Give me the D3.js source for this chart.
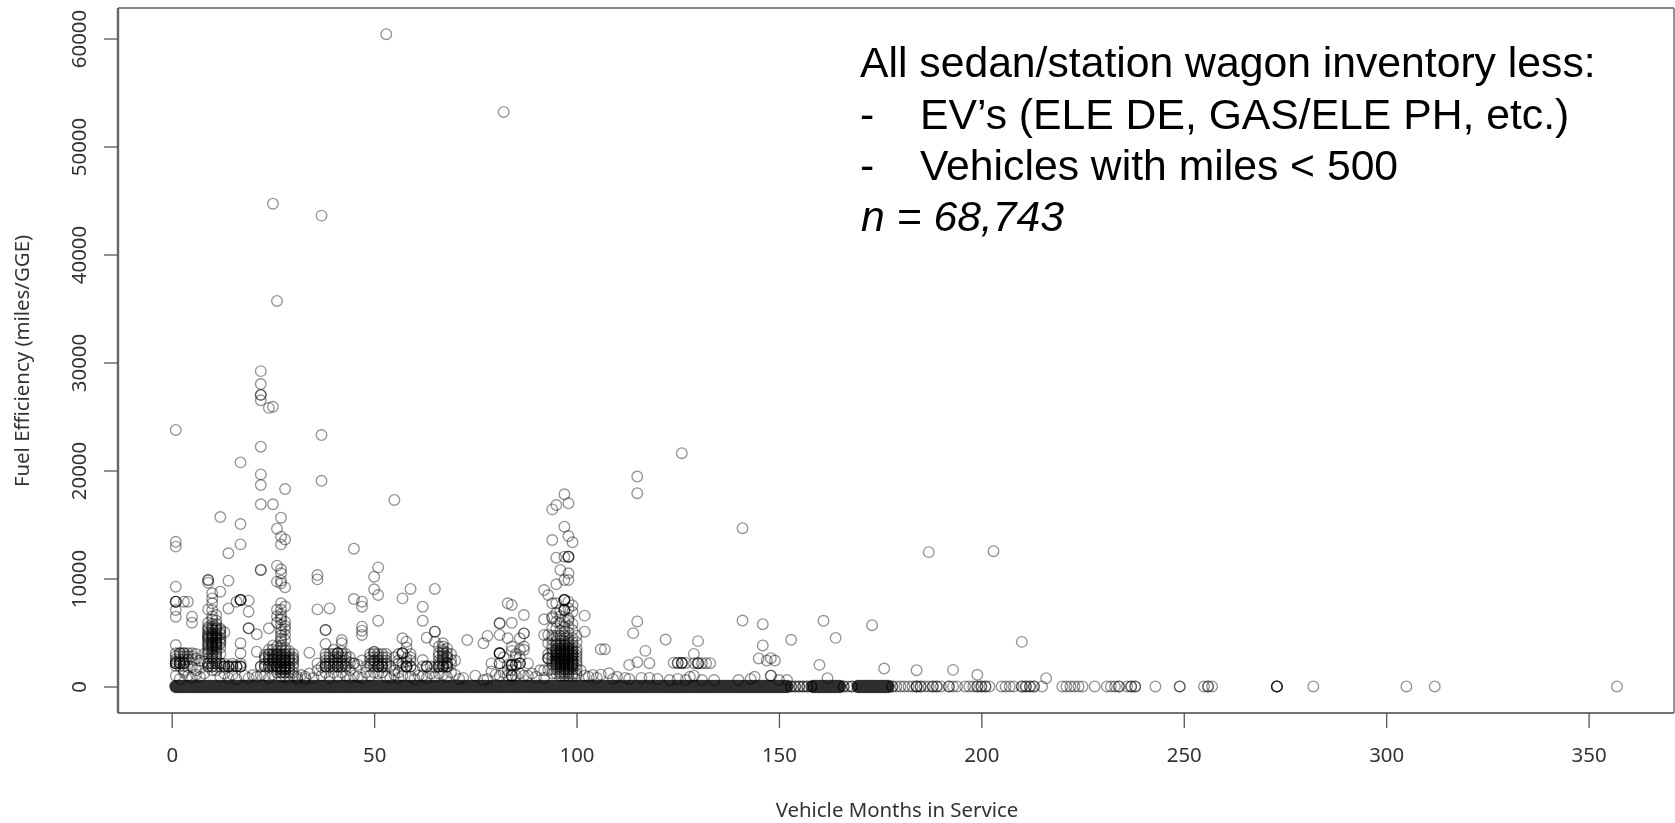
<!DOCTYPE html>
<html>
<head>
<meta charset="utf-8">
<script src="https://d3js.org/d3.v7.min.js"></script>
<style>
	body { margin: 0; background: #fff; }
	.tick text, .labels { font-family: "Noto Sans", sans-serif; font-size: 20.4px; fill: #333; }
	.note { font-family: "Liberation Sans", Arial, sans-serif; font-size: 42.7px; fill: #000; }
</style>
</head>
<body>
<svg width="1675" height="823"></svg>
<script>
const xTicks = [0, 50, 100, 150, 200, 250, 300, 350],
	yTicks = [0, 10000, 20000, 30000, 40000, 50000, 60000];

// the solid strip along zero: months filled almost continuously
const bandMonths = [
	1,1.5,2,2.5,3,3.5,4,4.5,5,5.5,6,6.5,7,7.5,8,8.5,9,9.5,10,10.5,11,11.5,12,12.5,13,13.5,14,14.5,15,15.5,
	16,16.5,17,17.5,18,18.5,19,19.5,20,20.5,21,21.5,22,22.5,23,23.5,24,24.5,25,25.5,26,26.5,27,27.5,28,28.5,29,29.5,30,30.5,
	31,31.5,32,32.5,33,33.5,34,34.5,35,35.5,36,36.5,37,37.5,38,38.5,39,39.5,40,40.5,41,41.5,42,42.5,43,43.5,44,44.5,45,45.5,
	46,46.5,47,47.5,48,48.5,49,49.5,50,50.5,51,51.5,52,52.5,53,53.5,54,54.5,55,55.5,56,56.5,57,57.5,58,58.5,59,59.5,60,60.5,
	61,61.5,62,62.5,63,63.5,64,64.5,65,65.5,66,66.5,67,67.5,68,68.5,69,69.5,70,70.5,71,71.5,72,72.5,73,73.5,74,74.5,75,75.5,
	76,76.5,77,77.5,78,78.5,79,79.5,80,80.5,81,81.5,82,82.5,83,83.5,84,84.5,85,85.5,86,86.5,87,87.5,88,88.5,89,89.5,90,90.5,
	91,91.5,92,92.5,93,93.5,94,94.5,95,95.5,96,96.5,97,97.5,98,98.5,99,99.5,100,100.5,101,101.5,102,102.5,103,103.5,104,104.5,105,105.5,
	106,106.5,107,107.5,108,108.5,109,109.5,110,110.5,111,111.5,112,112.5,113,113.5,114,114.5,115,115.5,116,116.5,117,117.5,118,118.5,119,119.5,120,120.5,
	121,121.5,122,122.5,123,123.5,124,124.5,125,125.5,126,126.5,127,127.5,128,128.5,129,129.5,130,130.5,131,131.5,132,132.5,133,133.5,134,134.5,135,135.5,
	136,136.5,137,137.5,138,138.5,139,139.5,140,140.5,141,141.5,142,142.5,143,143.5,144,144.5,145,145.5,146,146.5,147,147.5,148,148.5,149,149.5,150,150.5,
	151,151.5,152,158.5,159,159.5,160,160.5,161,161.5,162,162.5,163,163.5,164,164.5,165,
	169.5,170,170.5,171,171.5,172,172.5,173,173.5,174,174.5,175,175.5,176,176.5,177
];
const bandLevels = [-40, 0, 60];

// single rings on the zero line past the solid strip
const sparseMonths = [
	153,153,154,154,155,155,156,156,157,157,158,158,166,166,167,168,168,178,178,179,180,181,182,183,184,184,184,185,185,186,187,188,188,189,189,190,
	192,192,193,194,196,197,198,199,199,200,200,201,201,202,205,206,207,208,210,210,211,211,212,212,213,213,215,
	220,221,222,223,224,225,228,231,232,233,234,234,236,237,237,238,238,243,249,249,255,256,256,257,
	273,273,273,273,282,305,312,357
];

const highPoints = [
	[53,60400],[82,53200],[25,44700],[37,43600],[26,35700],[22,29200],[22,28000],[22,27000],[22,27000],[22,26500],
	[24,25800],[25,25900],[1,23750],[37,23280],[22,22200],[126,21600],[17,20750],[22,19640],[115,19440],[37,19050],
	[22,18650],[28,18285],[115,17900],[97,17800],[55,17270],[98,16960],[22,16870],[25,16870],[95,16800],[94,16400],
	[12,15690],[27,15630],[17,15040],[141,14660],[97,14800],[26,14610],[98,13930],[27,13870],[28,13620],[94,13560],
	[1,13400],[99,13350],[27,13160],[17,13160],[1,12950],[45,12760],[203,12530],[187,12440],[14,12330],
	[95,11930],[97,12020],[98,12020],[98,12020],[98,12020]
];

const lowOutliers = [
	[26,11190],[51,11030],[27,10850],[22,10790],[22,10790],[27,10480],[96,10790],[98,10480],[36,10320],[50,10170],[36,9920],
	[9,9860],[9,9860],[9,9610],[14,9800],[26,9710],[27,9800],[27,9550],[97,9860],[98,9860],[95,9460],[1,9240],[28,9180],
	[59,9030],[65,9030],[50,9000],[92,8930],[12,8780],[10,8630],[51,8470],[93,8470],[57,8160],[45,8100],[17,8010],[17,8010],
	[17,8010],[17,8010],[16,7850],[19,7950],[1,7850],[1,7850],[1,7850],[3,7850],[4,7850],[47,7850],[27,7700],[83,7700],
	[84,7550],[47,7390],[62,7390],[39,7230],[14,7230],[36,7140],[1,7080],[19,6930],[87,6620],[102,6560],[1,6460],[5,6460],
	[51,6090],[62,6090],[141,6110],[115,6020],[146,5770],[161,6080],[5,5910],[81,5850],[81,5850],[84,5900],[173,5680],
	[47,5540],[24,5385],[19,5385],[19,5385],[38,5230],[38,5230],[102,5075],[13,5015],[65,5080],[47,5170],[114,4940],
	[87,4920],[87,4920],[21,4830],[47,4770],[81,4770],[78,4680],[164,4500],[65,5075],[63,4520],[57,4460],[83,4460],[86,4460],
	[122,4350],[73,4300],[153,4320],[65,4150],[58,4150],[210,4130],[130,4200],[77,4000],[38,3935],[1,3840],[146,3800],
	[17,4000],[107,3440],[106,3440],[117,3300],[21,3225],[17,3070],[34,3130],[129,3020],[145,2600],[147,2400],[148,2620],
	[149,2400],[115,2250],[113,2000],[118,2160],[124,2200],[125,2180],[125,2180],[126,2170],[126,2170],[126,2170],[127,2180],
	[129,2160],[130,2160],[130,2160],[130,2160],[131,2160],[132,2160],[133,2160],[160,2000],[176,1660],[184,1510],[193,1540],
	[199,1080],[216,770],[162,770],[148,1000],[148,1000],[144,900],[129,1000],[128,900],[108,1220],[104,1070],[75,1000],
	[46,900],[36,2140],[20,1060],[22,1060],[32,1060],[89,1200],[91,1500],[79,2140],[88,2140],[69,2450],[45,2140],[45,2140],
	[62,2450],[68,3530],[40,3400],[42,4300],[42,4000],[34,1200],[61,1000],[70,1100],[100,1000],[110,900],[112,800],[120,700]
];

// light rings just above the strip
const fringe = [
	[1,1000],[2,700],[3,1500],[5,800],[6,1100],[7,1700],[8,1200],[8,2300],[8,3000],[12,900],[13,1200],[14,800],[15,1100],[16,700],
	[18,1000],[19,800],[21,900],[23,1000],[24,800],[25,1100],[29,800],[30,1000],[31,700],[33,700],[35,800],[37,1000],[39,800],[41,900],
	[43,1000],[44,800],[45,1000],[47,800],[49,1000],[51,1200],[53,900],[54,800],[55,1100],[56,800],[57,1000],[59,900],[60,700],[62,1000],
	[63,800],[64,1200],[65,900],[66,1200],[67,1100],[68,900],[71,700],[72,800],[77,600],[78,700],[79,1400],[80,1100],[81,1000],[82,1300],
	[86,1200],[88,1000],[90,900],[92,800],[101,1500],[102,1000],[103,900],[105,800],[106,1100],[109,700],[113,700],[116,800],[118,800],
	[123,600],[125,700],[127,600],[131,600],[134,600],[140,600],[143,700],[150,600],[152,600]
];

// months 1-17 above the strip
const clusterA = [
	[1,3070],[2,3070],[2,3070],[3,3070],[3,3070],[4,3070],[5,3070],[1,2140],[1,2140],[1,2140],[1,2140],[2,2140],[2,2140],[2,2140],
	[3,2140],[3,2140],[3,2140],[1,2500],[2,2500],[3,2500],[4,2500],[5,2500],[4,1800],[5,1800],[6,1500],[3,1300],[4,1000],[7,900],
	[10,8160],[10,7700],[9,7140],[10,7080],[11,6620],[10,6500],[10,6200],[11,6100],[9,5900],[10,5800],[11,5800],
	[9,5500],[10,5500],[11,5500],[9,5200],[10,5200],[11,5200],[12,5200],[9,4800],[10,4800],[10,4800],[11,4800],[12,4800],
	[9,4500],[9,4500],[10,4500],[10,4500],[11,4500],[11,4500],[12,4500],[9,4100],[10,4100],[10,4100],[11,4100],[11,4100],[12,4100],
	[9,3800],[10,3800],[10,3800],[11,3800],[11,3800],[9,3400],[10,3400],[11,3400],[9,3000],[10,3000],[11,3000],[12,3000],
	[9,2600],[10,2600],[11,2600],[9,2140],[9,2140],[10,2140],[10,2140],[11,2140],[11,2140],[12,2140],[12,2140],[10,1500],[11,1500],
	[13,1850],[13,1850],[13,1850],[14,1850],[14,1850],[14,1850],[15,1850],[15,1850],[16,1850],[16,1850],[16,1850],[17,1850],[17,1850],[17,1850],
	[1,2800],[2,2800],[3,2800],[4,2800],[5,2800],[6,2600],[7,2400],[6,3000],[1,2300],[2,2300],[3,1900],[1,1900],[2,1900],
	[9,5350],[10,5350],[11,5350],[12,5350],[9,4950],[10,4950],[11,4950],[12,4950],[9,4650],[10,4650],[11,4650],[9,4300],[10,4300],[11,4300],[12,4300],
	[9,3950],[10,3950],[11,3950],[12,3950],[9,3600],[10,3600],[11,3600],[12,3600],[9,3200],[10,3200],[11,3200],[10,2800],[11,2800],
	[9,1850],[10,1850],[11,1850],[12,1850],[9,1850],[10,1850],[13,2100],[15,2100],[17,2100]
];

// months 22-30 block and column
const clusterB = [
	[26,7100],[27,7100],[28,7400],[26,6500],[27,6700],[28,6000],[27,6200],[27,5700],[28,5300],[27,5300],[28,4800],[27,4700],[27,4200],
	[28,4300],[27,3800],[25,3800],[26,3700],[24,3400],[25,3400],[26,3300],[27,3300],[28,3300],[29,3300],[24,3000],[25,3000],[26,3000],[27,3000],
	[28,3000],[29,3000],[30,3000],[23,2700],[24,2700],[25,2700],[26,2700],[27,2700],[28,2700],[29,2700],[30,2700],[24,2400],[25,2400],
	[26,2400],[27,2400],[27,2400],[28,2400],[28,2400],[29,2400],[30,2400],[22,1850],[22,1850],[23,1850],[23,1850],[24,1850],[24,1850],
	[25,1850],[25,1850],[26,1850],[26,1850],[26,1850],[27,1850],[27,1850],[27,1850],[28,1850],[28,1850],[28,1850],[29,1850],[29,1850],[30,1850],
	[27,1300],[27,1300],[28,1300],[28,1300],[26,1300],[29,1300],[30,1300],[27,900],[28,900],[31,900],[33,900],
	[23,2950],[24,2950],[25,2950],[26,2950],[27,2950],[28,2950],[23,2500],[24,2500],[25,2550],[26,2550],[27,2550],[28,2550],[29,2550],[30,2550],
	[25,2200],[26,2200],[27,2200],[28,2200],[29,2200],[24,2100],[23,2100],[30,2100],[26,1600],[27,1600],[27,1600],[28,1600],[28,1600],[29,1600],
	[25,1850],[26,1850],[27,1850],[28,1850],[27,3600],[28,3600],[27,4400],[27,5000],[28,5600],[26,5900],[27,6400]
];

// months 38-68, the smaller blocks
const clusterC = [
	[38,3000],[38,2400],[38,1850],[38,1850],[38,1850],[39,3000],[39,2400],[39,1850],[39,1850],[40,3000],[40,2400],[40,1850],[40,1850],
	[41,3070],[41,3070],[41,3070],[41,2400],[41,1850],[41,1850],[41,1850],[42,3000],[42,3300],[42,2400],[42,1850],[42,1850],[43,3000],[43,2400],
	[43,1850],[43,1850],[38,1300],[40,1300],[42,1300],[44,1500],[36,1500],[37,1800],[49,3000],[50,3000],[51,3000],[52,3000],[53,3000],
	[49,2400],[50,2400],[50,2400],[51,2400],[52,2400],[53,2400],[50,3200],[50,3200],[48,1850],[49,1850],[50,1850],[51,1850],[51,1850],[51,1850],[51,1850],[52,1850],
	[52,1850],[52,1850],[53,1850],[54,1850],[47,2400],[46,2000],[48,1300],[50,1300],[52,1300],[55,1500],[56,3000],[56,2400],[57,3070],[57,3070],[57,3070],
	[58,3600],[55,2700],[58,2600],[59,3000],[59,2400],[58,1850],[58,1850],[58,1850],[58,1850],[59,1850],[59,1850],[57,1850],[56,1300],[60,1500],
	[62,1850],[63,1850],[63,1850],[63,1850],[64,1850],[66,1850],[66,1850],[66,1850],[67,1850],[67,1850],[67,1850],[68,1850],[68,1850],[68,1850],
	[67,4000],[67,3700],[67,3400],[67,3100],[67,2700],[67,2400],[66,3700],[66,3100],[68,3100],[68,2700],[69,3000],[70,2400],[66,2400],[65,1800],[68,2200],[69,1300],
	[38,2700],[39,2700],[40,2700],[41,2700],[42,2700],[43,2700],[44,2700],[38,2100],[39,2100],[40,2100],[41,2100],[42,2100],[43,2100],[44,2200],
	[49,2700],[50,2700],[51,2700],[52,2700],[53,2700],[49,2100],[50,2100],[51,2100],[52,2100],[53,2100],[57,2200],[58,2300],[59,2700],[56,2100],
	[67,3250],[67,2900],[67,2550],[66,2800],[68,2800],[67,2100],[66,2100],[68,2100],[69,2100]
];

// months 81-88 and the tall 92-101 column
const clusterD = [
	[81,3070],[81,3070],[81,3070],[81,3070],[84,3700],[84,3300],[85,3000],[86,3400],[87,3700],[87,3400],[85,2700],[86,2700],[82,2700],
	[81,2140],[81,2140],[83,2000],[84,1990],[84,1990],[84,1990],[84,1990],[85,1990],[85,1990],[86,2140],[86,2140],[86,2140],[83,1500],[84,1500],
	[84,1000],[84,1000],[84,1000],[85,1000],[83,1000],[87,1000],[92,4770],[93,4770],[93,4000],[93,3000],[93,2600],[93,2600],[93,2600],[92,1500],[93,1500],
	[94,7700],[94,6460],[94,6310],[95,7700],[95,6800],[96,7080],[96,5850],[97,8010],[97,8010],[97,8010],[97,8010],[97,7080],[97,7080],[97,7080],
	[98,7850],[98,7240],[98,6310],[98,6150],[92,6220],[99,7500],[99,6900],[95,6000],[96,6500],[97,6000],[97,5500],[98,5600],[99,5800],
	[94,5400],[95,5400],[96,5200],[97,5100],[98,5000],[99,5200],[94,4700],[95,4700],[96,4700],[97,4700],[98,4500],[99,4500],[100,4700],
	[94,4300],[95,4200],[96,4200],[97,4200],[98,4200],[99,4100],[100,4100],[94,3800],[95,3800],[96,3800],[97,3800],[97,3800],[98,3800],[99,3800],
	[94,3500],[95,3500],[96,3500],[96,3500],[97,3500],[98,3500],[98,3500],[99,3500],[100,3500],[94,3200],[95,3200],[95,3200],[96,3200],[96,3200],[97,3200],[97,3200],
	[98,3200],[98,3200],[99,3200],[100,3200],[94,2900],[95,2900],[95,2900],[96,2900],[96,2900],[97,2900],[97,2900],[97,2900],[98,2900],[98,2900],[99,2900],[99,2900],
	[100,2900],[94,2600],[95,2600],[96,2600],[96,2600],[97,2600],[97,2600],[97,2600],[98,2600],[98,2600],[99,2600],[100,2600],[94,2300],[95,2300],[95,2300],[96,2300],
	[96,2300],[97,2300],[97,2300],[97,2300],[98,2300],[98,2300],[99,2300],[99,2300],[100,2300],[94,2000],[95,2000],[96,2000],[96,2000],[97,2000],[97,2000],[98,2000],
	[98,2000],[99,2000],[99,2000],[100,2000],[94,1600],[95,1600],[96,1600],[97,1600],[97,1600],[98,1600],[98,1600],[99,1600],[100,1600],[94,1200],[95,1200],[96,1200],
	[97,1200],[98,1200],[99,1200],[100,1200],
	[95,3350],[96,3350],[97,3350],[98,3350],[99,3350],[95,3050],[96,3050],[97,3050],[98,3050],[99,3050],[95,2750],[96,2750],[97,2750],[98,2750],[99,2750],
	[95,2450],[96,2450],[97,2450],[98,2450],[99,2450],[95,2150],[96,2150],[97,2150],[98,2150],[99,2150],[95,1800],[96,1800],[97,1800],[98,1800],[99,1800],
	[96,1350],[97,1350],[98,1350],[96,1000],[97,1000],[98,1000],[99,1000],[95,3950],[96,3950],[97,3950],[98,3950],[96,4450],[97,4450]
];

const svg = d3.select('svg'),
	xScale = d3.scaleLinear().domain([-13.27, 371.1]).range([118, 1674]),
	yScale = d3.scaleLinear().domain([-2454, 62824]).range([713, 8]);

// the reference is a resized screenshot, so everything but the note is slightly soft
svg.append('defs').append('filter')
	.attr('id', 'soft')
	.append('feGaussianBlur')
	.attr('stdDeviation', 0.7);

const chart = svg.append('g').attr('filter', 'url(#soft)');

// plot box, each side has its own weight in the picture
chart.append('line').attr('x1', 118).attr('x2', 1674).attr('y1', 8).attr('y2', 8)
	.attr('stroke', '#888').attr('stroke-width', 2);
chart.append('line').attr('x1', 118).attr('x2', 118).attr('y1', 8).attr('y2', 713)
	.attr('stroke', '#666').attr('stroke-width', 2.4);
chart.append('line').attr('x1', 118).attr('x2', 1674).attr('y1', 713).attr('y2', 713)
	.attr('stroke', '#444').attr('stroke-width', 1.6);
chart.append('line').attr('x1', 1674).attr('x2', 1674).attr('y1', 8).attr('y2', 713)
	.attr('stroke', '#777').attr('stroke-width', 1.6);

const xAxis = chart.append('g')
	.attr('transform', `translate(0, 713)`)
	.call(d3.axisBottom(xScale).tickValues(xTicks).tickSize(15).tickPadding(20).tickFormat(d3.format('d')));

const yAxis = chart.append('g')
	.attr('transform', `translate(118, 0)`)
	.call(d3.axisLeft(yScale).tickValues(yTicks).tickSize(14).tickPadding(18).tickFormat(d3.format('d')));

xAxis.select('.domain').remove();
yAxis.select('.domain').remove();
xAxis.selectAll('line').attr('stroke', '#555').attr('stroke-width', 1.3);
yAxis.selectAll('line').attr('stroke', '#555').attr('stroke-width', 1.3);

// y tick labels run up the axis
yAxis.selectAll('text')
	.attr('text-anchor', 'middle')
	.attr('dy', 0)
	.attr('x', 0)
	.attr('y', 0)
	.attr('transform', 'translate(-32, 0) rotate(-90)');

// the strip is heavier than single rings
const bandPoints = [];
bandLevels.forEach(level => bandMonths.forEach(m => bandPoints.push([m, level])));

chart.append('g').selectAll('circle')
	.data(bandPoints)
	.enter()
	.append('circle')
	.attr('cx', d => xScale(d[0]))
	.attr('cy', d => yScale(d[1]))
	.attr('r', 5)
	.attr('fill', 'none')
	.attr('stroke', '#2e2e2e')
	.attr('stroke-width', 2.4)
	.attr('stroke-opacity', 0.8);

const points = sparseMonths.map(m => [m, 0]).concat(highPoints, lowOutliers, fringe, clusterA, clusterB, clusterC, clusterD);

chart.append('g').selectAll('circle')
	.data(points)
	.enter()
	.append('circle')
	.attr('cx', d => xScale(d[0]))
	.attr('cy', d => yScale(d[1]))
	.attr('r', 5.3)
	.attr('fill', 'none')
	.attr('stroke', '#000')
	.attr('stroke-width', 1.35)
	.attr('stroke-opacity', 0.42);

// label for x-axis
chart.append('text')
	.attr('x', 897)
	.attr('y', 817)
	.attr('text-anchor', 'middle')
	.attr('class', 'labels')
	.text('Vehicle Months in Service');

// label for y-axis
chart.append('text')
	.attr('transform', 'translate(29, 361) rotate(-90)')
	.attr('text-anchor', 'middle')
	.attr('class', 'labels')
	.text('Fuel Efficiency (miles/GGE)');

// pasted note, top right
const note = svg.append('g').attr('class', 'note');
note.append('text').attr('x', 860).attr('y', 77).text('All sedan/station wagon inventory less:');
note.append('text').attr('x', 860).attr('y', 128.5).text('-');
note.append('text').attr('x', 920).attr('y', 128.5).text('EV’s (ELE DE, GAS/ELE PH, etc.)');
note.append('text').attr('x', 860).attr('y', 180).text('-');
note.append('text').attr('x', 920).attr('y', 180).text('Vehicles with miles < 500');
note.append('text').attr('x', 861).attr('y', 230.5).attr('font-style', 'italic').text('n = 68,743');
</script>
</body>
</html>
